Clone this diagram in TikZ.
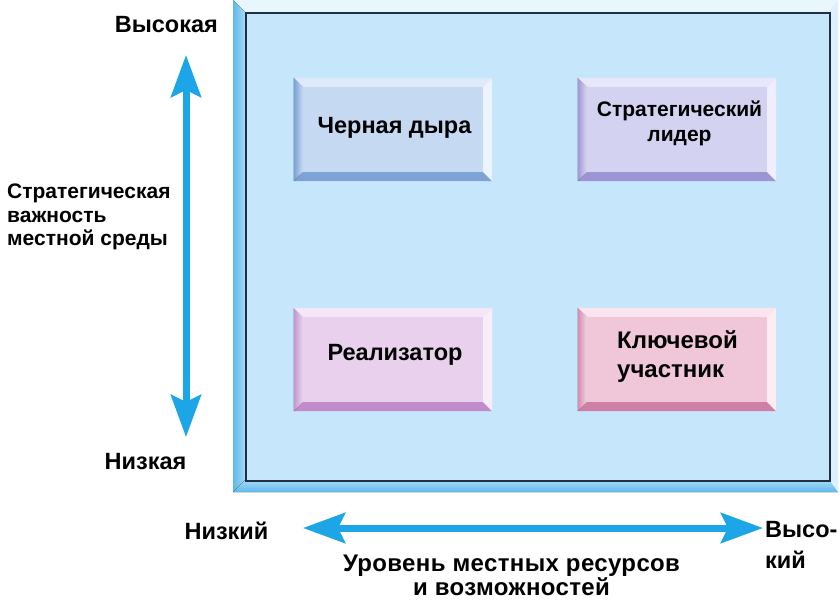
\documentclass[tikz,border=0pt]{standalone}
\usepackage{fontspec}
\setmainfont{Liberation Sans}
\usetikzlibrary{arrows.meta}
\definecolor{arrowblue}{HTML}{1CA6E8}
\definecolor{panel}{HTML}{C5E6FB}
\definecolor{frameL}{HTML}{5DB8EC}
\definecolor{frameLi}{HTML}{A8DAF6}
\definecolor{frameT}{HTML}{E8F6FE}
\definecolor{frameR}{HTML}{DDF1FD}
\definecolor{edge}{HTML}{1F2F45}
% card colours: face, left, bottom, top, right
\definecolor{bhF}{RGB}{198,217,243}\definecolor{bhL}{RGB}{120,160,215}\definecolor{bhB}{RGB}{126,162,214}\definecolor{bhT}{RGB}{222,234,250}\definecolor{bhR}{RGB}{236,243,252}
\definecolor{slF}{RGB}{212,210,241}\definecolor{slL}{RGB}{160,152,214}\definecolor{slB}{RGB}{157,149,211}\definecolor{slT}{RGB}{232,230,250}\definecolor{slR}{RGB}{240,238,252}
\definecolor{reF}{RGB}{233,208,237}\definecolor{reL}{RGB}{196,150,205}\definecolor{reB}{RGB}{194,139,203}\definecolor{reT}{RGB}{245,230,248}\definecolor{reR}{RGB}{248,238,250}
\definecolor{kuF}{RGB}{240,198,217}\definecolor{kuL}{RGB}{214,140,175}\definecolor{kuB}{RGB}{207,127,165}\definecolor{kuT}{RGB}{250,228,238}\definecolor{kuR}{RGB}{252,236,244}
\tikzset{
  lbl/.style={font=\bfseries\fontsize{23.5}{28}\selectfont, inner sep=0pt},
  side/.style={font=\bfseries\fontsize{21}{23.5}\selectfont, inner sep=0pt},
  boxtxt/.style={font=\bfseries\fontsize{23.5}{28}\selectfont, inner sep=0pt},
  bottomtxt/.style={font=\bfseries\fontsize{24}{28}\selectfont\addfontfeature{LetterSpace=1.5}, inner sep=0pt},
  axis/.style={draw=arrowblue, line width=7pt,
     {Stealth[length=42pt,width=30pt,inset=7pt,fill=arrowblue]}-{Stealth[length=42pt,width=30pt,inset=7pt,fill=arrowblue]}},
  card/.style={minimum width=198pt, minimum height=103pt, inner sep=0pt, draw=none}
}
% bevel: node, colour prefix
\newcommand\bevelcard[2]{%
  \fill[#2B] (#1.south west) -- (#1.south east) -- ([shift={(-9pt,9pt)}]#1.south east) -- ([shift={(9pt,9pt)}]#1.south west) -- cycle;
  \fill[left color=#2L, right color=#2L!40!white] (#1.south west) -- (#1.north west) -- ([shift={(9pt,-9pt)}]#1.north west) -- ([shift={(9pt,9pt)}]#1.south west) -- cycle;
  \fill[#2T] (#1.north west) -- (#1.north east) -- ([shift={(-9pt,-9pt)}]#1.north east) -- ([shift={(9pt,-9pt)}]#1.north west) -- cycle;
  \fill[#2R] (#1.north east) -- (#1.south east) -- ([shift={(-9pt,9pt)}]#1.south east) -- ([shift={(-9pt,-9pt)}]#1.north east) -- cycle;
}
\begin{document}
\begin{tikzpicture}[x=1pt,y=-1pt]
\useasboundingbox (0,0) rectangle (840,608);
\fill[white] (0,0) rectangle (840,608);
% frame
\fill[frameT] (233,0) rectangle (838,492);
\fill[left color=frameL, right color=frameLi] (233,0) -- (245,12) -- (245,480) -- (233,492) -- cycle;
\fill[top color=frameLi, bottom color=frameL] (233,492) -- (245,480) -- (829,480) -- (838,492) -- cycle;
\fill[frameR] (838,0) -- (829,12) -- (829,480) -- (838,492) -- cycle;
\node[draw=edge, line width=1.6pt, fill=panel, minimum width=584pt, minimum height=468pt, inner sep=0pt, anchor=north west] (panel) at (245,12) {};
% cards
\node[card, fill=bhF] (bh) at (393,129.5) {};
\bevelcard{bh}{bh}
\node[boxtxt, anchor=base] (bht) at (394.5,133) {Черная дыра};
\node[card, fill=slF] (sl) at (677,129.5) {};
\bevelcard{sl}{sl}
\node[font=\bfseries\fontsize{21}{25}\selectfont, inner sep=0pt, anchor=base] (slt1) at (679.5,116) {Стратегический};
\node[font=\bfseries\fontsize{21}{25}\selectfont, inner sep=0pt, anchor=base] (slt2) at (679.5,141) {лидер};
\node[card, fill=reF] (re) at (393,359.5) {};
\bevelcard{re}{re}
\node[boxtxt, anchor=base] (ret) at (395,360) {Реализатор};
\node[card, fill=kuF] (ku) at (677,359.5) {};
\bevelcard{ku}{ku}
\node[font=\bfseries\fontsize{24}{29}\selectfont, inner sep=0pt, anchor=base west] (kut1) at (617,348) {Ключевой};
\node[font=\bfseries\fontsize{24}{29}\selectfont, inner sep=0pt, anchor=base west] (kut2) at (617,377) {участник};
% axes
\coordinate (vtop) at (186,55);
\coordinate (vbot) at (186,437);
\draw[axis] (vbot) -- (vtop);
\coordinate (hl) at (303,528);
\coordinate (hr) at (763,528);
\draw[axis] (hl) -- (hr);
% labels
\node[lbl, anchor=base east] (hi) at (218,32) {Высокая};
\node[lbl, anchor=base] (lo) at (145.5,469) {Низкая};
\node[side, anchor=base west] (imp1) at (7,198) {Стратегическая};
\node[side, anchor=base west] (imp2) at (7,222) {важность};
\node[side, anchor=base west] (imp3) at (7,245) {местной среды};
\node[lbl, anchor=base] (lx) at (226.5,539) {Низкий};
\node[lbl, anchor=base west] (hx1) at (765,537) {Высо-};
\node[lbl, anchor=base west] (hx2) at (765,568) {кий};
\node[bottomtxt, anchor=base] (lev1) at (511.5,571) {Уровень местных ресурсов};
\node[bottomtxt, anchor=base] (lev2) at (511.5,595) {и возможностей};
\end{tikzpicture}
\end{document}
